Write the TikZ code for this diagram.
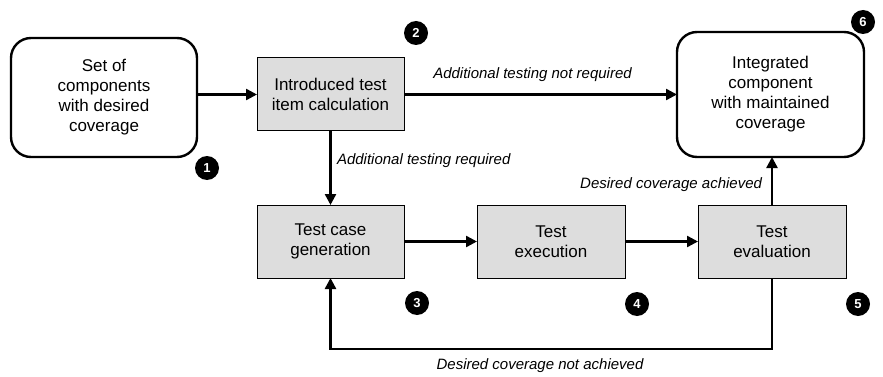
\documentclass[tikz,border=0pt]{standalone}
\usepackage{fontspec}
\setmainfont{Liberation Sans}
\usetikzlibrary{arrows.meta}
\definecolor{boxgray}{HTML}{DDDDDD}
\begin{document}
\begin{tikzpicture}[x=1pt,y=-1pt,
  every node/.style={inner sep=0pt, outer sep=0pt},
  endbox/.style={draw, line width=2.4pt, rounded corners=20pt, fill=white,
    align=center, font=\fontsize{17}{20}\selectfont},
  stepbox/.style={draw, line width=1pt, fill=boxgray, minimum width=147pt,
    minimum height=73pt, align=center, font=\fontsize{17}{20}\selectfont},
  flow/.style={line width=2.4pt, -{Triangle[length=11pt,width=11pt]}},
  badge/.style={circle, fill=black, minimum size=24pt, text=white,
    font=\fontsize{13}{13}\selectfont\bfseries},
  lbl/.style={font=\fontsize{15}{18}\selectfont\itshape}]
  \useasboundingbox (0,0) rectangle (883,377);

  % process boxes
  \node[endbox, minimum width=186pt, minimum height=119pt] (start) at (104,97.5)
    {Set of\\components\\with desired\\coverage};
  \node[stepbox] (calc) at (330.5,94.5) {Introduced test\\item calculation};
  \node[endbox, minimum width=187pt, minimum height=125pt] (done) at (770.5,94.5)
    {Integrated\\component\\with maintained\\coverage};
  \node[stepbox] (gen) at (330.5,241.5) {Test case\\generation};
  \node[stepbox, minimum width=148pt] (exec) at (551,241.5) {Test\\execution};
  \node[stepbox, minimum width=148pt] (eval) at (772,241.5) {Test\\evaluation};

  % numbered badges
  \node[badge] (b1) at (207,168) {1};
  \node[badge] (b2) at (416,33) {2};
  \node[badge] (b3) at (417,303) {3};
  \node[badge] (b4) at (637,304) {4};
  \node[badge] (b5) at (858,304) {5};
  \node[badge] (b6) at (863,22) {6};

  % connectors
  \draw[flow] (start.east |- calc) -- (calc.west);
  \draw[flow] (calc.east) -- (done.west |- calc);
  \draw[flow] (calc.south) -- (gen.north);
  \draw[flow] (gen.east) -- (exec.west);
  \draw[flow] (exec.east) -- (eval.west);
  \draw[flow] (eval.north) -- (eval.north |- done.south);
  \coordinate (loopR) at (772,349);
  \draw[flow] (eval.south) -- (loopR) -| (gen.south);

  % connector labels
  \node[lbl] (l1) at (532.5,75) {Additional testing not required};
  \node[lbl, anchor=west] (l2) at (337,161) {Additional testing required};
  \node[lbl, anchor=east] (l3) at (762,185) {Desired coverage achieved};
  \node[lbl] (l4) at (540,366) {Desired coverage not achieved};
\end{tikzpicture}
\end{document}
